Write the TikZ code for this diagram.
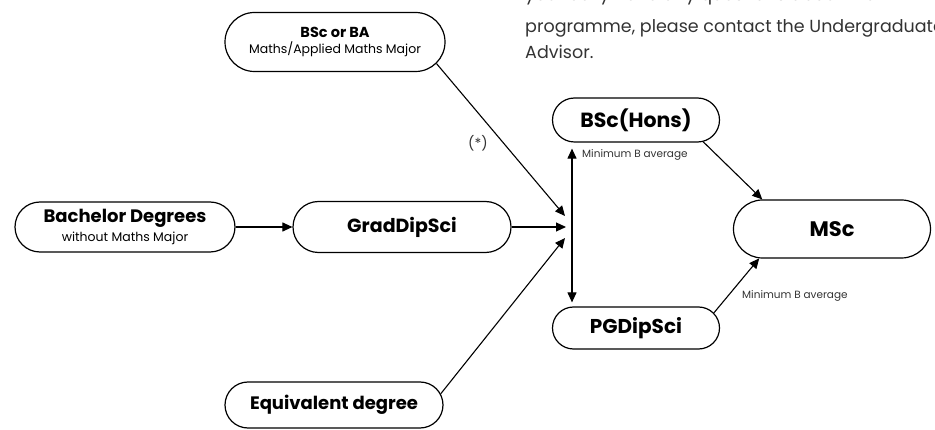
\documentclass[tikz,border=0pt]{standalone}
\usepackage{fontspec}
\setmainfont{Poppins}
\usetikzlibrary{shapes.misc,arrows.meta}
\definecolor{txtgray}{HTML}{333333}
\begin{document}
\begin{tikzpicture}[x=1pt,y=-1pt,
  pill/.style={rounded rectangle, draw, line width=1.2pt, inner sep=0pt, align=center},
  conn/.style={line width=1.1pt, -{Triangle[length=10pt,width=9pt]}},
  lbl/.style={text=txtgray, inner sep=0pt},
  body/.style={lbl, anchor=base west, font=\fontsize{17.5}{20}\selectfont}]
\useasboundingbox (0,0) rectangle (935,430);
\begin{scope}
\clip (0,0) rectangle (935,430);
\node[body] (t1) at (525,0.5) {you really have any questions about the};
\node[body] (t2) at (525,33) {programme, please contact the Undergraduate};
\node[body] (t3) at (525,59) {Advisor.};
\end{scope}

\node[pill, minimum width=220pt, minimum height=59pt] (bsc) at (335,42)
  {{\fontsize{14.5}{20}\selectfont\bfseries BSc or BA}\\[4pt]{\fontsize{12.5}{14}\selectfont Maths/Applied Maths Major}};
\node[pill, minimum width=220pt, minimum height=50pt] (bach) at (125,227)
  {{\fontsize{18}{19}\selectfont\bfseries Bachelor Degrees}\\[3pt]{\fontsize{12.5}{14}\selectfont without Maths Major}};
\node[pill, font=\fontsize{19}{21}\selectfont\bfseries, minimum width=218pt, minimum height=51pt] (grad) at (402,227) {GradDipSci};
\node[pill, font=\fontsize{18}{20}\selectfont\bfseries, minimum width=218pt, minimum height=46pt] (equiv) at (334,405) {Equivalent degree};
\node[pill, font=\fontsize{20.5}{22}\selectfont\bfseries, minimum width=167pt, minimum height=44pt] (hons) at (636,120) {BSc(Hons)};
\node[pill, font=\fontsize{20}{22}\selectfont\bfseries, minimum width=167pt, minimum height=42pt] (pg) at (636,328) {PGDipSci};
\node[pill, font=\fontsize{21}{23}\selectfont\bfseries, minimum width=197pt, minimum height=58pt] (msc) at (832,229) {MSc};

\coordinate (j1) at (565,216);
\coordinate (j2) at (566,227);
\coordinate (j3) at (565,238);

\draw[conn] (bach.east) -- (grad.west);
\draw[conn] (grad.east) -- (j2);
\draw[conn] (bsc.-12) -- (j1);
\draw[conn] (equiv.6) -- (j3);
\draw[line width=1.1pt, {Triangle[length=10pt,width=9pt]}-{Triangle[length=10pt,width=9pt]}, shorten <=6pt, shorten >=4pt]
  ([xshift=-64pt]hons.south) -- ([xshift=-64pt]pg.north);
\draw[conn] (hons.-18) -- (msc.157);
\draw[conn] (pg.11) -- (msc.202);

\node[lbl, font=\fontsize{14}{16}\selectfont] (star) at (478,143) {(*)};
\node[lbl, anchor=west, font=\fontsize{10.5}{12}\selectfont] (m1) at (582,155) {Minimum B average};
\node[lbl, anchor=west, font=\fontsize{10.5}{12}\selectfont] (m2) at (742,296) {Minimum B average};
\end{tikzpicture}
\end{document}
